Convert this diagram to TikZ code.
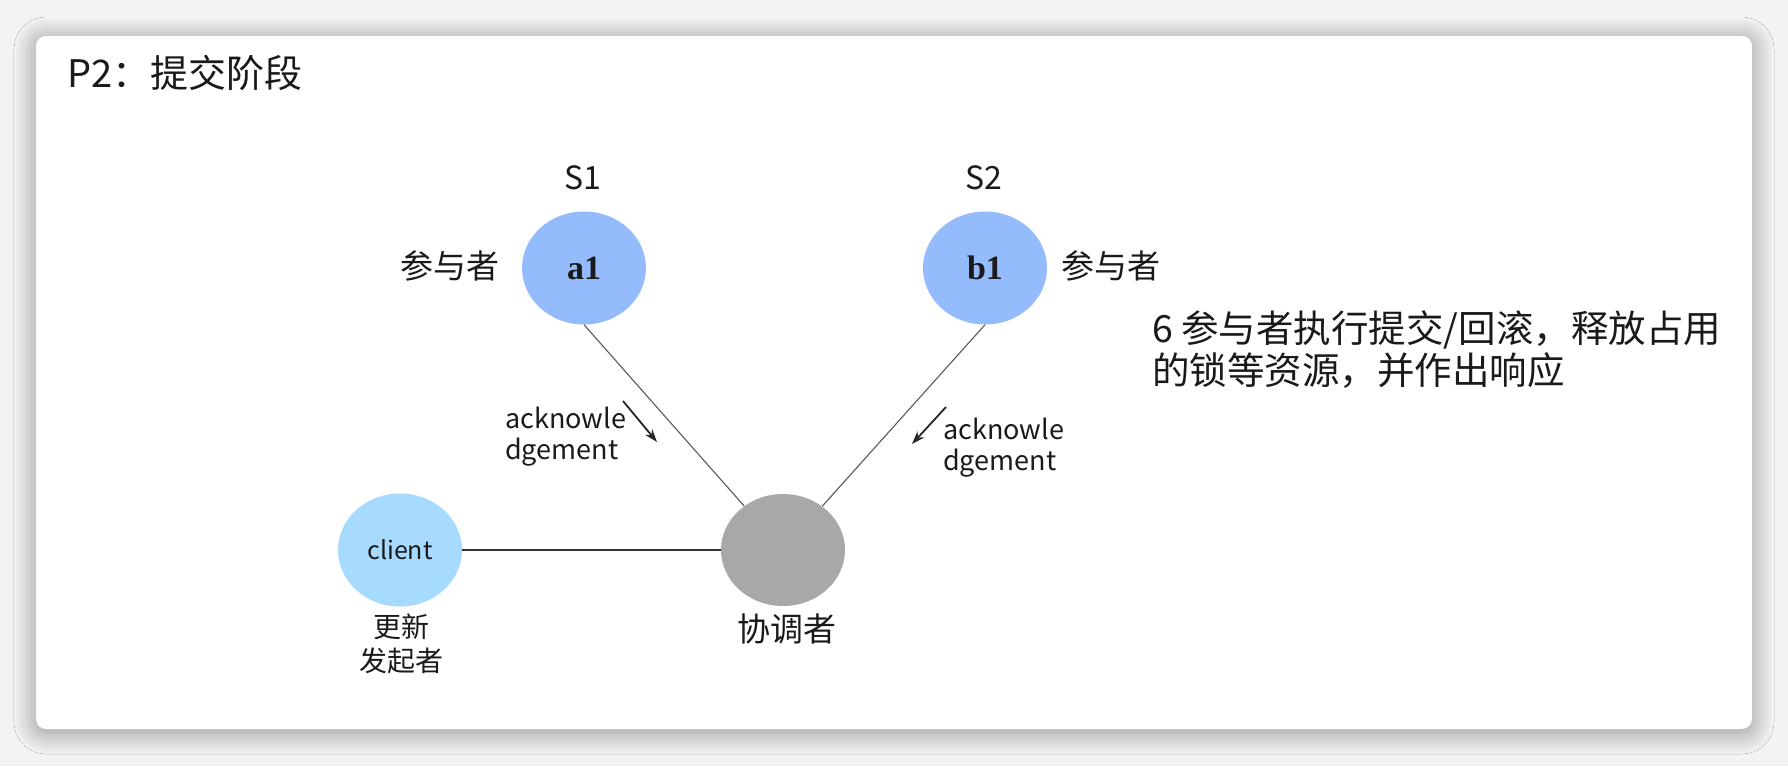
\documentclass[tikz,border=0pt]{standalone}
\usepackage{fontspec}
\setmainfont{Noto Sans CJK SC}
\newfontfamily\labelfont{Liberation Serif}
\usetikzlibrary{shapes.geometric,arrows.meta,shadows.blur}

\definecolor{partblue}{HTML}{94BCFD}
\definecolor{clientblue}{HTML}{A6DBFF}
\definecolor{coordgray}{HTML}{A8A8A8}
\definecolor{pagegray}{HTML}{F3F3F3}
\definecolor{inkgray}{HTML}{1A1A1A}

\begin{document}
\begin{tikzpicture}[x=1pt, y=-1pt,
node_style/.style={ellipse, inner sep=0pt, text=inkgray, minimum width=124pt, minimum height=113pt},
label_style/.style={inner sep=0pt, text=inkgray, font=\fontsize{33}{38}\selectfont},
ack_style/.style={inner sep=0pt, anchor=west, align=left, text=inkgray, font=\fontsize{27}{31}\selectfont},
edge_style/.style={draw=black!65, line width=1.1pt},
tip_style/.style={draw=black!85, line width=1.8pt, -{Stealth[length=13pt, width=9pt]}}]
\useasboundingbox (0,0) rectangle (1788,766);
\fill[pagegray] (0,0) rectangle (1788,766);
\fill[white, rounded corners=10pt, blur shadow={shadow xshift=0pt, shadow yshift=-3pt, shadow blur radius=22pt, shadow blur steps=24, shadow opacity=40}] (36,36) rectangle (1752,729);

\node[label_style, anchor=west, font=\fontsize{38}{44}\selectfont] (title) at (67,73) {P2：提交阶段};

\node[node_style, fill=partblue, font=\labelfont\bfseries\fontsize{34}{34}\selectfont] (a1) at (584,268) {a1};
\node[node_style, fill=partblue, font=\labelfont\bfseries\fontsize{34}{34}\selectfont] (b1) at (985,268) {b1};
\node[node_style, fill=clientblue, font=\fontsize{25}{25}\selectfont] (cl) at (400,550) {client};
\node[node_style, fill=coordgray, minimum height=112pt] (co) at (783,550) {};

\node[label_style, font=\fontsize{32}{32}\selectfont] (s1) at (583,178) {S1};
\node[label_style, font=\fontsize{32}{32}\selectfont] (s2) at (984,178) {S2};
\node[label_style] (pa) at (450,266) {参与者};
\node[label_style] (pb) at (1111,266) {参与者};
\node[label_style] (coname) at (787,629) {协调者};
\node[label_style, align=center, font=\fontsize{28}{34}\selectfont] (clname) at (401,644) {更新\\发起者};
\node[label_style, anchor=west, align=left, font=\fontsize{37.5}{42}\selectfont] (desc) at (1152,350) {6 参与者执行提交/回滚，释放占用\\的锁等资源，并作出响应};

\node[ack_style] (acka) at (505,437) {acknowle\\dgement};
\node[ack_style] (ackb) at (943,448) {acknowle\\dgement};

\draw[edge_style]  (a1.south) -- (co);
\draw[edge_style]  (b1.south) -- (co);
\draw[edge_style, draw=black!80, line width=1.5pt]  (cl) -- (co);

\coordinate (ta0) at (623,401);
\coordinate (ta1) at (657,442);
\coordinate (tb0) at (946,407);
\coordinate (tb1) at (912,444);
\draw[tip_style] (ta0) -- (ta1);
\draw[tip_style] (tb0) -- (tb1);

\end{tikzpicture}
\end{document}
